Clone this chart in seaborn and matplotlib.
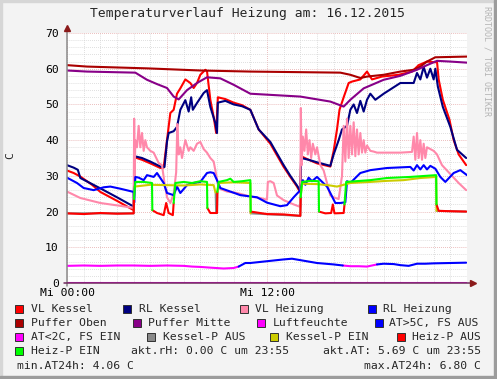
import numpy as np
import pandas as pd
import matplotlib
matplotlib.use("Agg")
import matplotlib.pyplot as plt
import seaborn as sns
from matplotlib.patches import Rectangle

# ---- data (hours since 00:00, temperature in C) ----
vl_kessel_h = [0, 0.4, 0.8, 1.5, 2.0, 3.0, 4.0, 4.05, 4.5, 5.0, 5.6, 5.8, 6.0, 6.2, 6.4, 6.6, 6.8,
               7.1, 7.4, 7.6, 7.8, 8.0, 8.3, 8.4, 8.6, 8.8, 8.95, 9.05, 9.5, 10.0, 10.5, 11.0, 11.5,
               12.2, 13.0, 13.4, 13.8, 14.0, 14.05, 14.5, 15.0, 15.8, 16.0, 16.2, 16.35, 16.6, 16.9,
               17.1, 17.6, 18.0, 18.3, 18.9, 19.9, 20.7, 21.1, 21.6, 22.1, 22.2, 22.3, 22.55, 22.95,
               23.2, 23.5, 23.95]
vl_kessel_v = [31.5, 30.8, 29.8, 27.5, 25.5, 23.0, 20.4, 35.2, 34.5, 33.5, 32.2, 32.3, 40, 47.6, 48.5,
               53, 54.5, 57, 56, 54.6, 56, 58.3, 59.7, 59.3, 51.3, 46.5, 42, 52, 51.5, 50.5, 49.8, 48.5,
               43, 39, 32.5, 29.7, 27, 25.2, 35.5, 34.5, 33.5, 32.6, 37, 43, 48.5, 52, 56, 56.4, 57,
               59.2, 57, 57.8, 58.3, 59.2, 61, 62, 61.8, 62, 57, 51.3, 45.7, 40, 36, 33]

rl_kessel_h = [0, 0.4, 0.65, 0.8, 2.0, 3.0, 4.0, 4.05, 4.5, 5.0, 5.7, 5.85, 6.0, 6.1, 6.4, 6.6, 6.8,
               7.1, 7.3, 7.45, 7.55, 7.8, 8.2, 8.4, 8.6, 8.9, 9.0, 9.05, 9.5, 10.0, 10.5, 11.0, 11.5,
               12.2, 13.0, 13.4, 13.8, 14.0, 14.05, 14.5, 15.0, 15.8, 16.0, 16.3, 16.5, 16.8, 17.0,
               17.2, 17.4, 17.6, 17.8, 18.0, 18.2, 18.5, 19.0, 20.0, 20.8, 21.0, 21.2, 21.4, 21.6,
               21.8, 22.0, 22.1, 22.25, 22.55, 23.0, 23.4, 23.95]
rl_kessel_v = [33, 32.3, 31.7, 29.4, 26.5, 24, 21.4, 35.5, 35, 34, 32.4, 32.5, 39.6, 42, 42.5, 43.7,
               48.5, 51.2, 48, 52, 48.5, 50.4, 53.2, 54, 49.3, 44.8, 42, 50.5, 51, 50, 49.5, 48.5, 43,
               39.5, 33, 30, 27.3, 25.8, 35, 34.5, 33.8, 32.8, 36, 40, 43, 44, 48.5, 50, 47.6, 51, 48,
               51.3, 53, 51.3, 53, 56, 56, 58.8, 57, 60.5, 57.5, 60, 57, 60, 55, 49.3, 43.7, 37.3, 35]

vl_heizung_h = [0, 0.8, 2.0, 3.2, 4.0, 4.03, 4.06, 4.1, 4.2, 4.3, 4.4, 4.5, 4.6, 4.7, 4.8, 5.0, 5.2,
                5.5, 5.7, 5.85, 6.0, 6.2, 6.4, 6.55, 6.62, 6.7, 6.8, 6.9, 7.1, 7.3, 7.4, 7.6, 7.8,
                8.0, 8.2, 8.4, 8.6, 8.8, 8.9, 9.0, 9.1, 9.6, 10.2, 11.0, 11.6, 12.0, 12.05, 12.2,
                12.4, 12.6, 13.0, 13.6, 14.0, 14.03, 14.08, 14.15, 14.25, 14.35, 14.45, 14.55, 14.65,
                14.75, 14.9, 15.0, 15.2, 15.4, 15.6, 15.8, 16.0, 16.3, 16.5, 16.6, 16.7, 16.8, 16.9,
                17.0, 17.1, 17.2, 17.3, 17.4, 17.5, 17.6, 17.7, 17.8, 17.9, 18.0, 18.2, 18.4, 18.6,
                19.0, 20.0, 20.7, 20.8, 20.9, 21.0, 21.1, 21.2, 21.3, 21.4, 21.5, 21.6, 21.8, 22.0,
                22.2, 22.5, 23.0, 23.5, 23.95]
vl_heizung_v = [25.6, 23.8, 22.4, 21.6, 21.0, 46, 30, 40, 38, 44, 38, 42, 37, 40, 38, 37, 36.5,
                33.6, 33, 28, 24, 22.4, 25, 31, 44.5, 36, 38, 35, 40, 37, 38, 37, 39,
                39.5, 37.5, 36.5, 35, 34, 31.6, 29, 26.5, 25.6, 25.2, 24.2, 23.8, 23.3, 28.3, 28.5,
                28, 24.5, 23.2, 22, 21.3, 49, 33, 41, 37, 43, 36, 40, 35,
                39, 36, 38, 33, 31.5, 28, 24.5, 24, 23.5, 30, 44, 34, 46, 35,
                44, 36, 45, 35.5, 43, 36, 42, 36.5, 40, 36.5, 38.5, 37, 36.8, 36.5,
                36.5, 36.5, 36.7, 41, 34.5, 42, 35, 40, 34.5, 39, 35, 38, 37.5, 37,
                36, 33, 30.5, 28, 26]

rl_heizung_h = [0, 0.6, 1.0, 1.6, 2.2, 2.6, 3.2, 4.0, 4.03, 4.1, 4.3, 4.6, 4.8, 5.2, 5.4, 5.8, 6.0,
                6.4, 6.6, 6.8, 7.2, 7.6, 8.0, 8.4, 8.6, 8.8, 9.0, 9.2, 10.4, 11.4, 12.0, 12.8, 13.2,
                13.6, 14.0, 14.15, 14.3, 14.5, 14.7, 15.0, 15.2, 15.6, 15.8, 16.1, 16.4, 16.7, 16.8,
                17.0, 17.6, 18.2, 19.2, 20.6, 20.8, 21.0, 21.2, 21.4, 21.6, 21.8, 22.1, 22.4, 22.7,
                23.2, 23.6, 24.0]
rl_heizung_v = [29.5, 28, 26.6, 26.0, 26.8, 27.0, 26.4, 25.5, 22.5, 29.7, 29.5, 28.8, 30.2, 29.7,
                30.8, 28, 25.2, 24.6, 27, 25.2, 27.4, 28, 28.3, 30.8, 31, 30.8, 28.8, 26.6, 24.6,
                24, 22.5, 21.5, 21.8, 24, 26, 28.8, 27.5, 29.5, 28.5, 29.7, 28.8, 27, 25.2, 22.4,
                22.4, 22.6, 28.5, 28, 30.8, 31.6, 32.2, 32.5, 31.5, 33, 31.8, 33, 31.8, 32.8, 32,
                29.7, 28.3, 30.8, 31.6, 30.2]

puffer_oben_h = [0, 1.2, 4.8, 8.0, 11.0, 16.4, 17.0, 17.6, 18.0, 19.0, 20.0, 20.8, 21.2, 21.6, 22.1, 24.0]
puffer_oben_v = [61, 60.6, 60.1, 59.5, 59.2, 58.9, 58.3, 57.4, 57.8, 58.3, 59.2, 59.7, 60.6, 62, 63.2, 63.4]

puffer_mitte_h = [0, 1.2, 4.1, 4.8, 5.4, 6.0, 6.4, 6.7, 7.2, 7.8, 8.4, 9.2, 10.0, 11.0, 14.0, 15.8,
                  16.6, 17.0, 17.8, 19.0, 20.0, 21.0, 21.6, 22.2, 23.0, 24.0]
puffer_mitte_v = [59.5, 59.2, 58.9, 56.9, 55.7, 54.6, 52.2, 51.4, 54, 56, 57.6, 57.3, 55.5, 53, 52.2,
                  50.8, 49.4, 51.3, 54.5, 56.9, 58, 59.7, 61, 62.2, 62, 61.7]

luftfeuchte_h = [0, 24]
luftfeuchte_v = [0.0, 0.0]

# outdoor temperature, state: M = frost protection on (magenta), B = off (blue)
at_h = [0, 1, 2, 3, 4, 5, 6, 7, 7.5, 8.0, 8.6, 9.4, 10.0, 10.3, 10.7, 11, 12, 13, 13.5, 14, 15, 16,
        16.55, 17, 17.5, 18, 18.6, 19, 19.6, 20, 20.5, 21, 21.5, 22, 23, 23.95]
at_v = [4.8, 4.9, 4.8, 4.9, 4.9, 4.8, 4.9, 4.8, 4.6, 4.5, 4.3, 4.06, 4.2, 4.6, 5.6, 5.6, 6.1, 6.6,
        6.8, 6.4, 5.6, 5.2, 4.9, 4.7, 4.7, 4.6, 5.2, 5.4, 5.3, 5.0, 4.8, 5.4, 5.4, 5.5, 5.6, 5.69]
at_s = ["M"] * 13 + ["B"] * 9 + ["M"] * 4 + ["B"] * 10

# boiler pump line, state: E = EIN (yellow), A = AUS (grey)
kp_h = [0, 4.0, 4.05, 5.0, 6.0, 7.0, 8.0, 8.8, 8.9, 8.92, 8.95, 9.0, 9.02, 9.1, 10.0, 11.0, 11.02,
        14.0, 14.03, 14.1, 15.0, 15.8, 16.2, 16.6, 17.0, 18.2, 19.2, 20.2, 21.2, 22.15, 22.17, 23.95]
kp_v = [19.5, 19.5, 27.0, 27.5, 27.4, 27.3, 27.6, 27.4, 25.5, 25.3, 19.6, 19.6, 25.2, 28.0, 28.2,
        28.0, 19.5, 18.8, 24.5, 27.8, 27.7, 27.3, 27.0, 27.5, 28.0, 28.3, 28.6, 28.8, 29.4, 29.7,
        20.2, 20.0]
kp_s = ["A", "A", "E", "E", "E", "E", "E", "E", "E", "A", "A", "A", "E", "E", "E", "E", "A",
        "A", "E", "E", "E", "E", "E", "E", "E", "E", "E", "E", "E", "E", "A", "A"]

# heating pump line, state: E = EIN (green), A = AUS (red)
hp_h = [0, 1.0, 2.0, 3.0, 4.0, 4.02, 4.1, 4.6, 5.1, 5.12, 5.4, 5.8, 5.95, 6.1, 6.35, 6.4, 6.5, 7.0,
        7.5, 8.0, 8.4, 8.42, 8.6, 9.0, 9.02, 9.1, 9.6, 9.8, 10.0, 10.5, 11.0, 11.02, 12.0, 13.0,
        14.0, 14.02, 14.1, 14.6, 15.1, 15.12, 15.5, 15.85, 15.95, 16.05, 16.6, 16.65, 16.75, 18.2,
        19.2, 20.6, 22.15, 22.17, 22.3, 23.0, 23.95]
hp_v = [19.5, 19.3, 19.6, 19.4, 19.5, 23.5, 28.3, 28.3, 28.0, 20.4, 19.6, 19.0, 22.4, 19.6, 19.0,
        22.4, 28.0, 28.3, 28.0, 28.5, 28.3, 21.0, 19.6, 19.6, 25.5, 28.3, 28.8, 29.2, 28.3, 28.5,
        28.8, 20.0, 19.3, 19.2, 18.8, 24.0, 28.3, 28.6, 28.5, 20.0, 19.5, 19.6, 22.0, 19.5, 19.6,
        22.0, 28.3, 28.8, 29.4, 29.7, 30.2, 22.0, 20.2, 20.1, 20.0]
hp_s = ["A"] * 5 + ["E"] * 4 + ["A"] * 6 + ["E"] * 6 + ["A"] * 3 + ["E"] * 7 + ["A"] * 4 + \
       ["E"] * 4 + ["A"] * 6 + ["E"] * 6 + ["A"] * 4

legend_rows = [
    [("VL Kessel", "#FF0000"), ("RL Kessel", "#000080"), ("VL Heizung", "#FF88AA"), ("RL Heizung", "#0000FF")],
    [("Puffer Oben", "#AA0000"), ("Puffer Mitte", "#880088"), ("Luftfeuchte", "#FF00FF"), ("AT>5C, FS AUS", "#0000FF")],
    [("AT<2C, FS EIN", "#FF00FF"), ("Kessel-P AUS", "#888888"), ("Kessel-P EIN", "#CCCC00"), ("Heiz-P AUS", "#FF0000")],
    [("Heiz-P EIN", "#00FF00")],
]
legend_box_x = [[15, 123, 240, 368], [15, 133, 257, 375], [15, 147, 270, 397], [15]]
legend_text_x = [[31, 139, 255, 383], [31, 148, 273, 389], [31, 163, 286, 412], [31]]

# ---- build long table ----
rows = []
seg_id = [0]


def add_series(name, hs, vs):
    for h, v in zip(hs, vs):
        rows.append((h, v, name, seg_id[0]))
    seg_id[0] += 1


def add_state_series(names, hs, vs, states):
    # a run of equal state is drawn in its colour up to the first point of the next run
    start = 0
    for i in range(1, len(hs) + 1):
        if i == len(hs) or states[i] != states[start]:
            end = min(i + 1, len(hs))
            add_series(names[states[start]], hs[start:end], vs[start:end])
            start = i


add_series("VL Kessel", vl_kessel_h, vl_kessel_v)
add_series("RL Kessel", rl_kessel_h, rl_kessel_v)
add_series("VL Heizung", vl_heizung_h, vl_heizung_v)
add_series("RL Heizung", rl_heizung_h, rl_heizung_v)
add_series("Puffer Oben", puffer_oben_h, puffer_oben_v)
add_series("Puffer Mitte", puffer_mitte_h, puffer_mitte_v)
add_series("Luftfeuchte", luftfeuchte_h, luftfeuchte_v)
add_state_series({"M": "AT<2C, FS EIN", "B": "AT>5C, FS AUS"}, at_h, at_v, at_s)
add_state_series({"A": "Kessel-P AUS", "E": "Kessel-P EIN"}, kp_h, kp_v, kp_s)
add_state_series({"A": "Heiz-P AUS", "E": "Heiz-P EIN"}, hp_h, hp_v, hp_s)

df = pd.DataFrame(rows, columns=["hour", "temp", "key", "seg"])
palette = {name: col for row in legend_rows for name, col in row}
hue_order = ["VL Kessel", "RL Kessel", "VL Heizung", "RL Heizung", "Puffer Oben", "Puffer Mitte",
             "Luftfeuchte", "AT<2C, FS EIN", "AT>5C, FS AUS", "Kessel-P AUS", "Kessel-P EIN",
             "Heiz-P AUS", "Heiz-P EIN"]

# ---- figure ----
sns.set_style("white")
plt.rcParams["font.family"] = ["DejaVu Sans Mono"]
W, H = 497, 379
fig = plt.figure(figsize=(W / 100, H / 100), dpi=100, facecolor="#F3F3F3")

# 3d-ish frame of the image
fig.patches.append(Rectangle((0, 0), 2 / W, 1, transform=fig.transFigure, color="#D6D6D6", zorder=0))
fig.patches.append(Rectangle((0, 1 - 2 / H), 1, 2 / H, transform=fig.transFigure, color="#D6D6D6", zorder=0))
fig.patches.append(Rectangle((1 - 3 / W, 0), 3 / W, 1, transform=fig.transFigure, color="#9C9C9C", zorder=0))
fig.patches.append(Rectangle((0, 0), 1, 3 / H, transform=fig.transFigure, color="#9C9C9C", zorder=0))

x0, x1, y0, y1 = 67, 467, 33, 283
ax = fig.add_axes([x0 / W, 1 - y1 / H, (x1 - x0) / W, (y1 - y0) / H])
ax.set_facecolor("white")
ax.set_xlim(0, 24)
ax.set_ylim(0, 70)

dots = (0, (0.7, 1.4))
for h in range(25):
    col = "#E3A3A3" if h % 6 == 0 else "#D2D2D2"
    ax.axvline(h, color=col, lw=0.7, ls=dots, zorder=0)
for t in range(0, 71, 2):
    col = "#E3A3A3" if t % 10 == 0 else "#D2D2D2"
    ax.axhline(t, color=col, lw=0.7, ls=dots, zorder=0)

sns.lineplot(data=df, x="hour", y="temp", hue="key", hue_order=hue_order, palette=palette,
             units="seg", estimator=None, sort=False, lw=1.5, legend=False, ax=ax, zorder=2)

for s in ax.spines.values():
    s.set_visible(False)
ax.plot([0, 0], [-0.8, 70.5], color="#8A8A8A", lw=1.1, clip_on=False, zorder=3)
ax.plot([-0.2, 24.3], [0, 0], color="#6E2A5C", lw=1.1, clip_on=False, zorder=3)
ax.plot([0], [71.3], marker="^", ms=4.5, color="#8B1A1A", clip_on=False, zorder=4)
ax.plot([24.35], [0], marker=">", ms=4.5, color="#8B1A1A", clip_on=False, zorder=4)

ax.set_yticks(range(0, 71, 10))
ax.set_yticklabels([str(t) for t in range(0, 71, 10)])
ax.set_xticks([0, 12])
ax.set_xticklabels(["Mi 00:00", "Mi 12:00"])
ax.tick_params(axis="both", length=0, labelsize=8.2, colors="#000000")
ax.tick_params(axis="y", pad=6)
ax.tick_params(axis="x", pad=3.6)
ax.set_xlabel("")
ax.set_ylabel("")

fig.text(247.5 / W, 1 - 13 / H, "Temperaturverlauf Heizung am: 16.12.2015", ha="center", va="center",
         fontsize=9.4)
fig.text(10 / W, 1 - 156 / H, "C", rotation=90, ha="center", va="center", fontsize=8.2)
fig.text(487 / W, 1 - 61 / H, "RRDTOOL / TOBI OETIKER", rotation=270, ha="center", va="center",
         fontsize=6.0, color="#B4B4B4")

row_y = [309, 323, 337, 351, 366]
for r, items in enumerate(legend_rows):
    yc = row_y[r]
    for k, (name, col) in enumerate(items):
        bx = legend_box_x[r][k]
        fig.patches.append(Rectangle((bx / W, 1 - (yc + 4) / H), 8 / W, 8 / H, transform=fig.transFigure,
                                     facecolor=col, edgecolor="#303030", lw=0.7, zorder=3))
        fig.text(legend_text_x[r][k] / W, 1 - yc / H, name, ha="left", va="center", fontsize=8.2)

fig.text(131 / W, 1 - row_y[3] / H, "akt.rH: 0.00 C um 23:55", ha="left", va="center", fontsize=8.2)
fig.text(481 / W, 1 - row_y[3] / H, "akt.AT: 5.69 C um 23:55", ha="right", va="center", fontsize=8.2)
fig.text(17 / W, 1 - row_y[4] / H, "min.AT24h: 4.06 C", ha="left", va="center", fontsize=8.2)
fig.text(481 / W, 1 - row_y[4] / H, "max.AT24h: 6.80 C", ha="right", va="center", fontsize=8.2)

fig.savefig("out.png", dpi=100, facecolor=fig.get_facecolor())
